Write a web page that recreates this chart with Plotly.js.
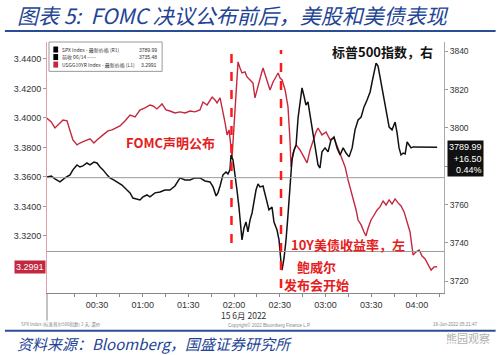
<!DOCTYPE html>
<html>
<head>
<meta charset="utf-8">
<script src="https://cdn.plot.ly/plotly-3.0.1.min.js"></script>
<style>
html,body{margin:0;padding:0;background:#fff;}
#chart{width:499px;height:355px;}
</style>
</head>
<body>
<div id="chart"></div>
<script>
// ---- data (minutes after 00:00, 15 Jun 2022) ----
const yieldT = [-3,0,2.4,5,7.7,10.3,12.3,14.2,16.9,18.8,22.1,25.4,28,30,34,37.2,39.9,43.1,45.1,48.4,51.7,55,58.2,61.5,64.8,66.8,69.4,72.7,75.3,77.9,81.2,84.5,87.8,91.1,94.3,97.6,99.6,102.3,105.6,107.5,108.8,110.8,112.1,114.1,115.4,116.7,118.7,120,121.3,122.6,123.9,125.2,127.2,128.5,130.5,132.4,133.7,135.7,137.7,139,141,143.6,145.6,147.6,148.9,150.2,151.5,153.5,155.4,156.7,157.4,158.7,160.7,163.3,165.3,167.9,169.9,171.8,173.8,175.1,177.7,180.4,183,185.6,187.6,189.6,191.6,192.9,194.8,196.1,198.1,200.1,201.4,203.4,205.3,206.6,208,209.9,211.9,213.9,215.8,217.8,219.8,221.8,223.7,225.7,227.7,229.6,231.6,233.6,235.5,237.5,239.5,241.5,243.4,245.4,247.4,249.3,251.3,253.3];
const yieldV = [3.4000,3.3973,3.3932,3.3959,3.3986,3.3980,3.3919,3.3851,3.3817,3.3830,3.3844,3.3858,3.3830,3.3851,3.3885,3.3912,3.3919,3.3939,3.3946,3.3980,3.4020,3.4007,3.4054,3.4068,3.4088,3.4081,3.4061,3.4095,3.4054,3.4047,3.4034,3.4041,3.4034,3.4047,3.4041,3.4054,3.4108,3.4088,3.4142,3.4122,3.4102,3.4136,3.4075,3.3966,3.3885,3.3919,3.3736,3.3966,3.4156,3.4380,3.4339,3.4305,3.4312,3.4278,3.4258,3.4237,3.4136,3.4224,3.4292,3.4339,3.4271,3.4190,3.4244,3.4285,3.4305,3.4271,3.4258,3.4190,3.4075,3.3851,3.3668,3.3763,3.3817,3.3783,3.3749,3.3695,3.3783,3.3851,3.3905,3.3932,3.3885,3.3905,3.3851,3.3864,3.3810,3.3769,3.3715,3.3668,3.3580,3.3532,3.3458,3.3376,3.3308,3.3275,3.3227,3.3200,3.3254,3.3308,3.3342,3.3376,3.3397,3.3437,3.3410,3.3444,3.3417,3.3451,3.3424,3.3403,3.3363,3.3295,3.3227,3.3071,3.3092,3.3105,3.3064,3.3044,3.3003,3.2969,3.2990,3.2991];

const spxT = [-3,0,2.4,5.7,9,12.3,14.2,16.9,18.8,20.8,23.4,25.4,28,30,32,34,36.6,38.5,41.2,43.1,46.4,49.7,51.7,53.6,56.3,58.2,60.2,62.8,64.8,68.1,71.4,74.6,77.9,81.2,84.5,87.8,91.1,94.3,97.6,100.9,104.2,106.2,108.2,109.4,110.8,112.7,114.7,116,117.3,118,119.3,120.6,121.9,123.2,124.5,125.2,126.5,127.8,129.1,130.5,131.8,133.1,134.4,135.7,137,139,141,142.9,144.9,146.2,148.2,149.5,150.8,151.5,152.8,154.1,155.4,156.7,158,159.4,160.7,162,163.3,164.6,165.9,167.2,168.5,169.9,171.8,173.8,175.1,176.4,177.7,179.7,181.7,183.6,185.6,187.6,189.6,191.6,193.5,195.5,197.5,199.4,201.4,203.4,205.3,207.3,209.3,210.6,211.9,213.2,214.5,215.8,217.8,219.1,220.4,221.8,223.7,225.7,227,228.3,229.6,231,232.3,233.6,234.9,236.2,237.5,242.1,253.3];
const spxV = [3774.4,3774.9,3773.4,3771.8,3773.9,3775.5,3778.1,3780.7,3779.6,3780.2,3781.7,3780.7,3782.2,3781.7,3779.6,3778.1,3775.5,3773.9,3772.8,3771.8,3770.2,3767.6,3766.1,3763.4,3762.9,3762.4,3764.0,3765.0,3764.0,3766.1,3766.6,3767.6,3767.6,3769.7,3773.9,3772.8,3772.8,3773.9,3773.9,3772.3,3771.8,3769.2,3764.5,3766.1,3769.7,3775.5,3777.0,3776.0,3778.1,3785.9,3783.3,3776.5,3767.6,3758.7,3749.3,3741.5,3747.8,3750.9,3745.7,3752.0,3755.6,3762.4,3767.6,3770.8,3769.2,3769.7,3763.4,3757.2,3758.7,3750.9,3746.7,3741.5,3730.0,3725.8,3732.1,3741.5,3754.6,3767.6,3783.3,3788.5,3791.1,3805.2,3814.6,3820.9,3816.7,3812.0,3813.6,3806.8,3799.0,3788.5,3780.7,3779.1,3787.5,3789.6,3787.5,3793.7,3795.3,3789.6,3785.9,3789.6,3786.9,3784.9,3789.6,3799.0,3804.2,3805.7,3811.0,3814.6,3818.8,3824.0,3829.2,3833.9,3832.3,3826.6,3818.3,3810.4,3805.2,3800.5,3799.0,3803.1,3797.4,3789.6,3785.9,3786.9,3786.4,3792.7,3791.1,3789.6,3790.1,3790.0,3789.99];

const xTickVals = [15,30,45,60,75,90,105,120,135,150,165,180,195,210,225,240,255];
const xTickText = ['','00:30','','01:00','','01:30','','02:00','','02:30','','03:00','','03:30','','04:00',''];
const leftTicks = [3.32,3.34,3.36,3.38,3.40,3.42,3.44];
const leftTickText = ['3.3200','3.3400','3.3600','3.3800','3.4000','3.4200','3.4400'];
const rightTicks = [3720,3740,3760,3780,3800,3820,3840];
const rightTickText = ['3720','3740','3760','','3800','3820','3840'];

const eventT = [118.3, 150.8];          // FOMC statement, press conference
const eventTop = [3.4447, 3.4461];
const eventBottom = [3.3152, 3.2847];
const priorClose = 3735.48;
const refYield = 3.3595;
const lastYield = 3.2991;
const lastSpx = 3789.99;
const spxChg = '+16.50';
const spxPct = '0.44%';

const RED_LINE = '#c4283f';
const RED_TXT = '#e5201c';
const CJK = '"Noto Sans CJK SC", "Noto Sans", sans-serif';
const NUM = '"Liberation Sans", Arial, sans-serif';

const traces = [
  {x: yieldT, y: yieldV, type: 'scatter', mode: 'lines', yaxis: 'y',
   line: {color: RED_LINE, width: 1.4}, hoverinfo: 'skip'},
  {x: spxT, y: spxV, type: 'scatter', mode: 'lines', yaxis: 'y2',
   line: {color: '#111', width: 1.5}, hoverinfo: 'skip'}
];

const shapes = [
  {type:'line', xref:'paper', x0:0, x1:1, yref:'y', y0:refYield, y1:refYield, line:{color:'#9a9a9a', width:1}},
  {type:'line', xref:'paper', x0:0, x1:1, yref:'y2', y0:priorClose, y1:priorClose, line:{color:'#9a9a9a', width:1}},
  // legend box
  {type:'rect', xref:'paper', yref:'paper', x0:0.005, x1:0.290, y0:0.883, y1:1.0, line:{color:'#999', width:1}, fillcolor:'#fff'},
  {type:'rect', xref:'paper', yref:'paper', x0:0.016, x1:0.028, y0:0.958, y1:0.982, line:{width:0}, fillcolor:'#000'},
  {type:'rect', xref:'paper', yref:'paper', x0:0.016, x1:0.028, y0:0.928, y1:0.952, line:{width:0}, fillcolor:'#000'},
  {type:'rect', xref:'paper', yref:'paper', x0:0.016, x1:0.028, y0:0.898, y1:0.922, line:{width:0}, fillcolor:RED_LINE},
  // date separator below axis
  {type:'line', xref:'paper', yref:'paper', x0:0.0, x1:0.0, y0:0, y1:-0.11, line:{color:'#888', width:1}},
  // title rule and footer rule
  {type:'line', xref:'paper', yref:'paper', x0:-0.106, x1:1.13, y0:1.044, y1:1.044, line:{color:'#2b4d98', width:2}},
  {type:'line', xref:'paper', yref:'paper', x0:-0.106, x1:1.13, y0:-0.15, y1:-0.15, line:{color:'#2b4d98', width:2}}
];
eventT.forEach((t, i) => {
  shapes.push({type:'line', xref:'x', yref:'y', x0:t, x1:t, y0:eventBottom[i], y1:eventTop[i],
    line:{color:'#ff1a1a', width:2.5, dash:'dash'}});
});

const ann = (o) => Object.assign({showarrow:false, xref:'paper', yref:'paper', xanchor:'center', yanchor:'middle'}, o);
const annotations = [
  ann({x:-0.08, y:1.108, xanchor:'left',
       text:'<i>图表 5:  FOMC 决议公布前后，美股和美债表现</i>',
       font:{family:CJK, size:21, color:'#234494'}}),
  ann({x:-0.08, y:-0.2, xanchor:'left',
       text:'<i>资料来源：Bloomberg，国盛证券研究所</i>',
       font:{family:CJK, size:15, color:'#234494'}}),
  ann({x:1.12, y:-0.178, xanchor:'right', text:'熊园观察',
       font:{family:CJK, size:11, color:'#b0b0b0'}}),
  // legend text
  ann({x:0.033, y:0.970, xanchor:'left', text:'SPX Index - 最新价格 (R1)', font:{family:CJK, size:5, color:'#333'}}),
  ann({x:0.033, y:0.940, xanchor:'left', text:'前收 06/14 -----', font:{family:CJK, size:5, color:'#333'}}),
  ann({x:0.033, y:0.910, xanchor:'left', text:'USGG10YR Index - 最新价格 (L1)', font:{family:CJK, size:5, color:'#333'}}),
  ann({x:0.283, y:0.970, xanchor:'right', text:String(lastSpx), font:{family:NUM, size:5, color:'#333'}}),
  ann({x:0.283, y:0.940, xanchor:'right', text:String(priorClose), font:{family:NUM, size:5, color:'#333'}}),
  ann({x:0.283, y:0.910, xanchor:'right', text:String(lastYield), font:{family:NUM, size:5, color:'#333'}}),
  // chart annotations
  ann({x:0.844, y:0.964, text:'<b>标普500指数，右</b>', font:{family:CJK, size:13, color:'#111'}}),
  ann({x:0.311, y:0.598, text:'<b>FOMC声明公布</b>', font:{family:CJK, size:13, color:RED_TXT}}),
  ann({x:0.759, y:0.195, text:'<b>10Y美债收益率，左</b>', font:{family:CJK, size:13, color:RED_TXT}}),
  ann({x:0.680, y:0.104, text:'<b>鲍威尔</b>', font:{family:CJK, size:13, color:RED_TXT}}),
  ann({x:0.678, y:0.032, text:'<b>发布会开始</b>', font:{family:CJK, size:13, color:RED_TXT}}),
  // date label and footnotes
  ann({x:0.495, y:-0.089, text:'15 6月 2022', font:{family:CJK, size:8.5, color:'#333'}}),
  ann({x:-0.07, y:-0.127, xanchor:'left', text:'SPX Index (标准普尔500指数) 2 天, 濃价', font:{family:CJK, size:4.5, color:'#888'}}),
  ann({x:0.56, y:-0.127, text:'Copyright© 2022 Bloomberg Finance L.P.', font:{family:NUM, size:4.5, color:'#888'}}),
  ann({x:1.09, y:-0.127, xanchor:'right', text:'16-Jun-2022 05:21:47', font:{family:NUM, size:4.5, color:'#888'}}),
  // last value boxes
  {x:0, xref:'paper', y:lastYield, yref:'y', xanchor:'right', yanchor:'middle', showarrow:false,
   text:String(lastYield), bgcolor:'#c4283f', borderpad:1, xshift:-1,
   font:{family:NUM, size:9, color:'#fff'}},
  {x:1, xref:'paper', y:lastSpx, yref:'y2', xanchor:'left', yanchor:'top', showarrow:false, align:'right',
   text:String(lastSpx) + '<br>' + spxChg + '<br>' + spxPct, bgcolor:'#111', borderpad:1, xshift:3, yshift:7,
   font:{family:NUM, size:9, color:'#fff'}}
];

const layout = {
  width: 499, height: 355,
  margin: {l: 47, r: 55, t: 42, b: 62},
  paper_bgcolor: '#fff', plot_bgcolor: '#fff',
  showlegend: false,
  xaxis: {range: [-2.8, 257.8], tickmode: 'array', tickvals: xTickVals, ticktext: xTickText,
          ticks: 'outside', ticklen: 3, tickcolor: '#888', showline: true, linecolor: '#888',
          showgrid: false, zeroline: false, tickfont: {family: NUM, size: 9, color: '#333'}},
  yaxis: {range: [3.2813, 3.4515], tickmode: 'array', tickvals: leftTicks, ticktext: leftTickText,
          ticks: 'outside', ticklen: 3, tickcolor: '#999', showline: true, linecolor: '#e4a0a8',
          showgrid: false, zeroline: false, tickfont: {family: NUM, size: 9, color: '#333'}},
  yaxis2: {range: [3713.8, 3844.9], overlaying: 'y', side: 'right', tickmode: 'array',
           tickvals: rightTicks, ticktext: rightTickText, ticks: 'outside', ticklen: 3, tickcolor: '#999',
           showline: true, linecolor: '#aaa', showgrid: false, zeroline: false,
           tickfont: {family: NUM, size: 8.5, color: '#333'}},
  shapes: shapes,
  annotations: annotations
};

Plotly.newPlot('chart', traces, layout, {staticPlot: true, displayModeBar: false});
</script>
</body>
</html>
